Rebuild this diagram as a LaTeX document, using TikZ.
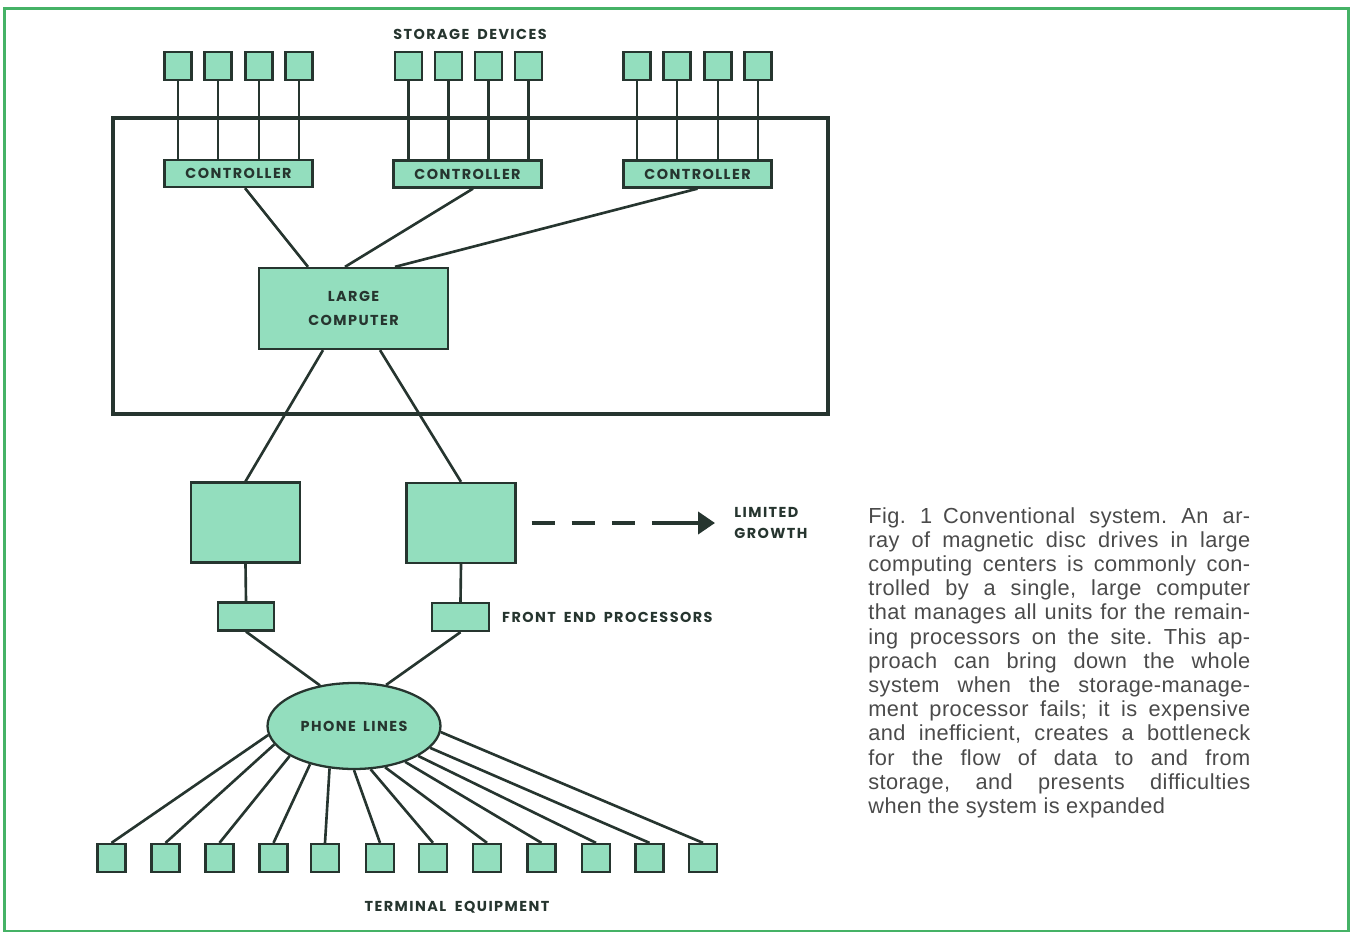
\documentclass[tikz,border=0pt]{standalone}
\usepackage{fontspec}
\usepackage{tikz}
\usetikzlibrary{arrows.meta,positioning,shapes.geometric}
\setmainfont{Liberation Sans}[LetterSpace=2]
\newfontfamily\FigLabelFace[LetterSpace=10]{Poppins}
\definecolor{FigFrame}{HTML}{45B266}
\definecolor{FigMint}{HTML}{93DEBE}
\definecolor{FigInk}{HTML}{26352F}
\definecolor{FigCaption}{HTML}{4A4A4A}
\newcommand{\FigLabel}{\FigLabelFace\fontsize{8.2}{13.7}\selectfont\bfseries}
\newcommand{\FigCaptionText}{\fontsize{12.4}{13.77}\selectfont\frenchspacing}
\tikzset{
  unitbase/.style={
    draw=FigInk,
    fill=FigMint,
    line width=1.3pt,
    inner sep=0pt,
    align=center,
    text=FigInk,
    font=\FigLabel
  },
  diskbox/.style={unitbase, rectangle, minimum width=0.54cm, minimum height=0.56cm},
  termbox/.style={unitbase, rectangle, minimum width=0.56cm, minimum height=0.56cm},
  ctrlbox/.style={unitbase, rectangle, minimum width=2.96cm, minimum height=0.54cm},
  hostbox/.style={unitbase, rectangle, minimum width=2.18cm, minimum height=1.60cm},
  fepbox/.style={unitbase, rectangle, minimum width=1.13cm, minimum height=0.56cm},
  cpubox/.style={unitbase, rectangle, minimum width=3.78cm, minimum height=1.62cm},
  linesbox/.style={unitbase, ellipse, minimum width=3.46cm, minimum height=1.72cm},
  plainlabel/.style={
    inner sep=0pt,
    text=FigInk,
    font=\FigLabel
  },
  wire/.style={draw=FigInk, line width=1.5pt},
  thinwire/.style={draw=FigInk, line width=1.2pt},
  sitebox/.style={draw=FigInk, line width=2.3pt},
  growtharrow/.style={
    -{Triangle[length=0.34cm,width=0.44cm]},
    draw=FigInk,
    line width=2.3pt,
    dash pattern=on 13.1pt off 9.7pt on 13.1pt off 9.7pt on 13.1pt off 9.7pt on 60pt,
    shorten <=0.30cm,
    shorten >=0.38cm
  }
}

\begin{document}
\begin{tikzpicture}[x=0.02cm,y=-0.02cm]
\path[use as bounding box] (0,0) rectangle (1351,932);
\draw[FigFrame, line width=1.5pt] (4.7,8.7) rectangle (1348.5,931);

% storage site
\node[plainlabel] (storagelbl) at (470,34) {STORAGE\hspace{0.55em}DEVICES};
\draw[sitebox] (113,118) rectangle (828,414);

\foreach \x [count=\i] in {178,218,259,299,408.5,448.5,488.5,528.5,637,677,718,758}
  \node[diskbox] (disk\i) at (\x,66) {};

\node[ctrlbox] (ctrlA) at (238.5,173.5) {CONTROLLER};
\node[ctrlbox] (ctrlB) at (467.5,174) {CONTROLLER};
\node[ctrlbox] (ctrlC) at (697.5,174) {CONTROLLER};

\foreach \i in {1,...,4}
  \draw[thinwire] (disk\i.south) -- (disk\i.south |- ctrlA.north);
\foreach \i in {5,...,8}
  \draw[thinwire] (disk\i.south) -- (disk\i.south |- ctrlB.north);
\foreach \i in {9,...,12}
  \draw[thinwire] (disk\i.south) -- (disk\i.south |- ctrlC.north);

\node[cpubox] (cpu) at (353.5,308.5) {LARGE\\COMPUTER};

\draw[wire] ([xshift=0.13cm]ctrlA.south) -- ([xshift=-0.91cm]cpu.north);
\draw[wire] ([xshift=0.11cm]ctrlB.south) -- ([xshift=-0.17cm]cpu.north);
\draw[wire] (ctrlC.south) -- ([xshift=0.83cm]cpu.north);

% processors and lines
\node[hostbox] (hostA) at (245.5,522.5) {};
\node[hostbox] (hostB) at (461,523) {};
\node[fepbox] (fepA) at (246,616.5) {};
\node[fepbox] (fepB) at (460.5,617) {};
\node[plainlabel, anchor=west, right=0.24cm of fepB] (feplbl) {FRONT\hspace{0.55em}END\hspace{0.55em}PROCESSORS};
\node[plainlabel, anchor=west, align=left] (growth) at (734,523) {LIMITED\\[-1.2pt]GROWTH};

\draw[wire] ([xshift=-0.61cm]cpu.south) -- (hostA.north);
\draw[wire] ([xshift=0.53cm]cpu.south) -- (hostB.north);
\draw[wire] (hostA.south) -- (fepA.north);
\draw[wire] (hostB.south) -- (fepB.north);
\draw[growtharrow] (hostB.east) -- (growth.west);

\node[linesbox] (phone) at (354,726) {PHONE\hspace{0.5em}LINES};
\draw[wire] (fepA.south) -- (phone.130);
\draw[wire] (fepB.south) -- (phone.52);

\foreach \x [count=\i] in {111.5,165.5,219.5,273.5,325,380,433,487,541.5,596,649.5,703}
  \node[termbox] (term\i) at (\x,858) {};
\foreach \a [count=\i] in {186,193,205,221,240,270,291,307,325,335,344,356}
  \draw[wire] (phone.\a) -- (term\i.north);

\node[plainlabel] (termlbl) at (457,907) {TERMINAL\hspace{0.6em}EQUIPMENT};

% caption
\node[anchor=north west, inner sep=0pt, text width=7.64cm, align=justify, text=FigCaption, font=\FigCaptionText] (caption) at (868,507)
  {Fig.~1\enspace Conventional system. An ar-\linebreak
  ray of magnetic disc drives in large\linebreak
  computing centers is commonly con-\linebreak
  trolled by a single, large computer\linebreak
  that manages all units for the remain-\linebreak
  ing processors on the site. This ap-\linebreak
  proach can bring down the whole\linebreak
  system when the storage-manage-\linebreak
  ment processor fails; it is expensive\linebreak
  and inefficient, creates a bottleneck\linebreak
  for the flow of data to and from\linebreak
  storage, and presents difficulties\linebreak
  when the system is expanded};

\end{tikzpicture}
\end{document}
